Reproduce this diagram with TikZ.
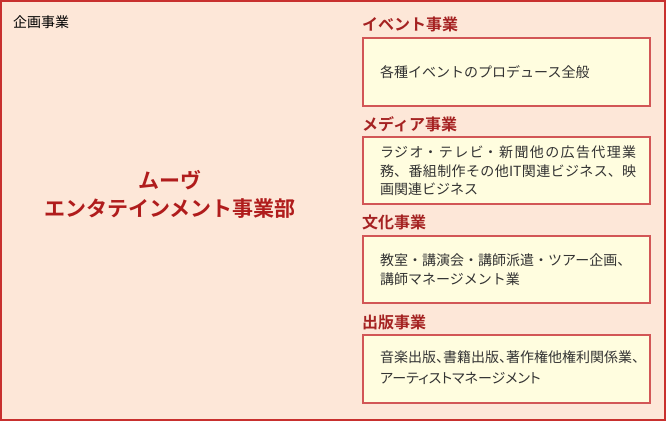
\documentclass[tikz,border=0pt]{standalone}
\usepackage{fontspec}
\setmainfont{Noto Sans CJK JP}
\newfontfamily\jpb{Noto Sans CJK JP Bold}
\newfontfamily\jppalt[RawFeature=+palt]{Noto Sans CJK JP}
\definecolor{bgpeach}{HTML}{FDE7D8}
\definecolor{outerred}{HTML}{C8302E}
\definecolor{boxfill}{HTML}{FFFDDF}
\definecolor{boxred}{HTML}{D25656}
\definecolor{headred}{HTML}{A52222}
\definecolor{titlered}{HTML}{B01C1C}
\definecolor{bodytext}{HTML}{333333}
\tikzset{
  bizbox/.style={draw=boxred, line width=1.6pt, fill=boxfill},
  heading/.style={anchor=west, inner sep=0pt, text=headred, font=\jpb\fontsize{16}{18}\selectfont},
  bodytxt/.style={anchor=west, inner sep=0pt, text=bodytext, align=left, font=\fontsize{14}{18.5}\selectfont},
}
\begin{document}
\begin{tikzpicture}[x=1pt,y=-1pt]
\useasboundingbox (0,0) rectangle (666,421);
\draw[fill=bgpeach, draw=outerred, line width=2.4pt] (1.2,1.2) rectangle (664.8,419.8);
\node[anchor=west, inner sep=0pt, text=black, font=\fontsize{14}{16}\selectfont] (plan) at (13,22) {企画事業};
\node[inner sep=0pt, text=titlered, align=center, font=\jpb\fontsize{21}{28}\selectfont] (title) at (170,194) {ムーヴ\\エンタテインメント事業部};
% event
\node[heading] (h1) at (362,24) {イベント事業};
\draw[bizbox] (363,38) rectangle (650,106);
\node[bodytxt] (t1) at (380,72) {各種イベントのプロデュース全般};
% media
\node[heading] (h2) at (362,124) {メディア事業};
\draw[bizbox] (363,137) rectangle (650,204);
\node[bodytxt] (t2) at (380,171) {\parbox{256pt}{\noindent\XeTeXlinebreaklocale "ja"\XeTeXlinebreakskip=0pt plus 4pt\XeTeXlinebreakpenalty=10000\relax%
\mbox{ラ}ジオ・テレビ・新聞他の広告代理業\linebreak 務、番組制作その他IT関連ビジネス、映\linebreak 画関連ビジネス}};
% culture
\node[heading] (h3) at (362,222) {文化事業};
\draw[bizbox] (363,236) rectangle (650,303);
\node[bodytxt] (t3) at (380,269.5) {教室・講演会・講師派遣・ツアー企画、\\講師マネージメント業};
% publishing
\node[heading] (h4) at (362,322) {出版事業};
\draw[bizbox] (363,335) rectangle (650,403);
\node[bodytxt, font=\jppalt\fontsize{14}{21}\selectfont] (t4) at (380,368) {音楽出版、書籍出版、著作権他権利関係業、\\アーティストマネージメント};
\end{tikzpicture}
\end{document}
